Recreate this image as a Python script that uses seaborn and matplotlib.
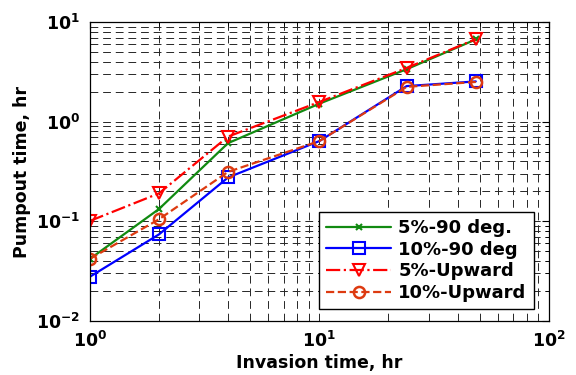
import matplotlib
matplotlib.use("Agg")
import matplotlib.pyplot as plt
import matplotlib.ticker as mticker
import seaborn as sns
import pandas as pd

invasion_hr = [1, 2, 4, 10, 24, 48]
pump_5_90 = [0.042, 0.133, 0.61, 1.52, 3.37, 6.7]
pump_10_90 = [0.0278, 0.074, 0.276, 0.64, 2.28, 2.54]
pump_5_up = [0.101, 0.191, 0.71, 1.58, 3.47, 6.75]
pump_10_up = [0.042, 0.105, 0.314, 0.64, 2.24, 2.51]

series_names = ["5%-90 deg.", "10%-90 deg", "5%-Upward", "10%-Upward"]
series_vals = [pump_5_90, pump_10_90, pump_5_up, pump_10_up]
xtick_vals = [1, 10, 100]
xtick_labels = [r"$\mathbf{10^{0}}$", r"$\mathbf{10^{1}}$", r"$\mathbf{10^{2}}$"]
ytick_vals = [0.01, 0.1, 1, 10]
ytick_labels = [r"$\mathbf{10^{-2}}$", r"$\mathbf{10^{-1}}$", r"$\mathbf{10^{0}}$", r"$\mathbf{10^{1}}$"]

sns.set_theme(style="white")
plt.rcParams["font.family"] = ["DejaVu Sans"]
plt.rcParams["font.weight"] = "bold"
plt.rcParams["mathtext.fontset"] = "dejavusans"
plt.rcParams["text.color"] = "black"
plt.rcParams["axes.labelcolor"] = "black"
plt.rcParams["xtick.color"] = "black"
plt.rcParams["ytick.color"] = "black"

fig = plt.figure(figsize=(5.76, 3.75), dpi=100)
ax = fig.add_axes([0.156, 0.144, 0.797, 0.797])

styles = [
    dict(color="#118a11", marker="x", linestyle="-", markersize=4, mew=1.5, mfc="#118a11"),
    dict(color="#0000ff", marker="s", linestyle="-", markersize=8, mew=1.5, mfc="none"),
    dict(color="#ff0000", marker="v", linestyle="-.", markersize=9, mew=1.5, mfc="none"),
    dict(color="#dd3a10", marker="o", linestyle="--", markersize=8, mew=1.8, mfc="none"),
]

for name, vals, st in zip(series_names, series_vals, styles):
    df = pd.DataFrame({"x": invasion_hr, "y": vals})
    sns.lineplot(data=df, x="x", y="y", ax=ax, label=name, linewidth=1.6,
                 color=st["color"], marker=st["marker"], linestyle=st["linestyle"],
                 markersize=st["markersize"], markeredgewidth=st["mew"],
                 markerfacecolor=st["mfc"], markeredgecolor=st["color"])

ax.set_xscale("log")
ax.set_yscale("log")
ax.set_xlim(1, 100)
ax.set_ylim(0.01, 10)

ax.xaxis.set_major_locator(mticker.FixedLocator(xtick_vals))
ax.xaxis.set_major_formatter(mticker.FixedFormatter(xtick_labels))
ax.yaxis.set_major_locator(mticker.FixedLocator(ytick_vals))
ax.yaxis.set_major_formatter(mticker.FixedFormatter(ytick_labels))
ax.xaxis.set_minor_locator(mticker.LogLocator(base=10, subs=range(2, 10)))
ax.yaxis.set_minor_locator(mticker.LogLocator(base=10, subs=range(2, 10)))
ax.xaxis.set_minor_formatter(mticker.NullFormatter())
ax.yaxis.set_minor_formatter(mticker.NullFormatter())

ax.grid(True, which="both", color="0.15", linestyle=(0, (8, 5)), linewidth=0.7)
ax.tick_params(which="both", direction="in", top=True, right=True, color="black",
               labelcolor="black")
ax.tick_params(which="major", length=5, width=0.8, labelsize=12.5, pad=7)
ax.tick_params(which="minor", length=3, width=0.6)
for s in ax.spines.values():
    s.set_color("black")
    s.set_linewidth(0.9)

ax.set_xlabel("Invasion time, hr", fontsize=12.5, fontweight="bold", labelpad=2, color="black")
ax.set_ylabel("Pumpout time, hr", fontsize=12.5, fontweight="bold", labelpad=4, color="black")

leg = ax.legend(loc="lower right", bbox_to_anchor=(0.967, 0.04), borderaxespad=0,
                prop={"size": 13, "weight": "bold"}, handlelength=3.6, frameon=True,
                fancybox=False, borderpad=0.4, labelspacing=0.2, handletextpad=0.4)
leg.get_frame().set_edgecolor("black")
leg.get_frame().set_linewidth(1.0)
leg.get_frame().set_alpha(1)
for t in leg.get_texts():
    t.set_color("black")

fig.savefig("out.png", dpi=100)
